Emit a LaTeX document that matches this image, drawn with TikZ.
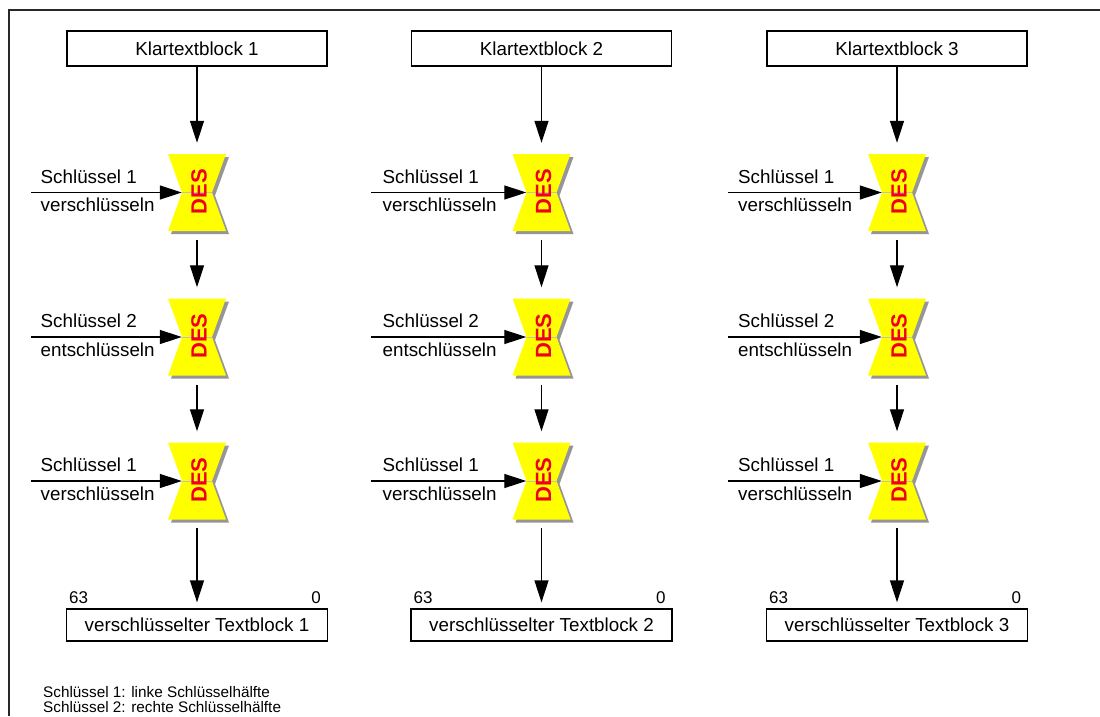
\documentclass[tikz,border=0pt]{standalone}
\usepackage{fontspec}
\setmainfont{Liberation Sans}
\usetikzlibrary{arrows.meta,calc}
\definecolor{desyellow}{RGB}{255,255,0}
\definecolor{desred}{RGB}{240,0,30}
\definecolor{desshade}{RGB}{150,150,150}
\definecolor{framegray}{RGB}{40,40,40}

\begin{document}
\begin{tikzpicture}[x=1pt,y=-1pt,
  every node/.style={font=\fontsize{18.8}{22}\selectfont},
  blockbox/.style={draw, line width=1.3pt, minimum width=260pt, minimum height=35pt, inner sep=0pt},
  outbox/.style={draw, line width=1.3pt, minimum width=261pt, minimum height=32pt, inner sep=0pt},
  waist/.style={minimum width=30pt, minimum height=77pt, inner sep=0pt},
  flow/.style={line width=1.3pt, -{Triangle[length=22pt,width=14pt]}},
  keylabel/.style={anchor=west, inner sep=0pt},
  bitlabel/.style={inner sep=0pt, font=\fontsize{17}{18}\selectfont},
  deslabel/.style={rotate=90, inner sep=0pt, text=desred, font=\fontsize{22}{22}\selectfont\bfseries},
  legend/.style={anchor=west, inner sep=0pt, font=\fontsize{15.3}{15}\selectfont}]

\useasboundingbox (0,0) rectangle (1100,716);

% frame: left and top edges
\draw[line width=1.5pt, framegray] (9,716) -- (9,10) -- (1100,10);

\foreach \c/\cx/\kx/\tx in {1/197/31/40.5, 2/541.5/371/382.5, 3/897/728/738} {
  \node[blockbox] (plain\c) at (\cx,48.5) {Klartextblock \c};
  \foreach \r/\cy/\k/\mode in {1/192.5/1/verschlüsseln, 2/337/2/entschlüsseln, 3/481/1/verschlüsseln} {
    \node[waist] (des\c\r) at (\cx,\cy) {};
    % hourglass-shaped DES block with its drop shadow
    \begin{scope}[shift={(des\c\r.center)}]
      \fill[desshade] (-26,-35.5) -- (32,-35.5) -- (18,3) -- (32,41.5) -- (-26,41.5) -- (-12,3) -- cycle;
      \fill[desyellow] (-29,-38.5) -- (29,-38.5) -- (15,0) -- (29,38.5) -- (-29,38.5) -- (-15,0) -- cycle;
      \draw[desshade!60, line width=0.4pt] (-15,0) -- (15,0);
    \end{scope}
    \node[deslabel] (deslbl\c\r) at ($(des\c\r.center)+(2,-1)$) {DES};
    \coordinate (keyin\c\r) at (\kx,\cy);
    \draw[flow] (keyin\c\r) -- (des\c\r.west);
    \node[keylabel] (key\c\r) at (\tx,\cy-16) {Schlüssel \k};
    \node[keylabel] (mode\c\r) at (\tx,\cy+12.5) {\mode};
  }
  \node[outbox] (out\c) at (\cx,625) {verschlüsselter Textblock \c};
  \node[bitlabel, anchor=west] (msb\c) at ($(out\c.north west)+(3,-11)$) {63};
  \node[bitlabel, anchor=east] (lsb\c) at ($(out\c.north east)+(-7,-11)$) {0};
  \draw[flow, shorten >=11pt] (plain\c.south) -- (des\c1.north);
  \draw[flow, shorten <=9pt, shorten >=11pt] (des\c1.south) -- (des\c2.north);
  \draw[flow, shorten <=9pt, shorten >=11pt] (des\c2.south) -- (des\c3.north);
  \draw[flow, shorten <=8.5pt, shorten >=6pt] (des\c3.south) -- (out\c.north);
}

\node[legend] (legend1) at (43,692) {Schlüssel 1: linke Schlüsselhälfte};
\node[legend] (legend2) at (43,707) {Schlüssel 2: rechte Schlüsselhälfte};
\end{tikzpicture}
\end{document}
